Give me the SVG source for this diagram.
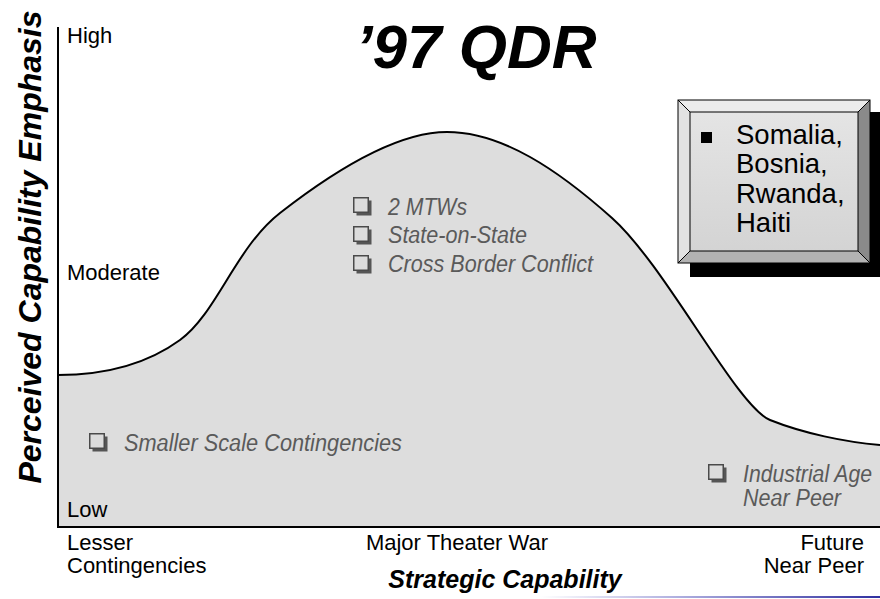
<svg xmlns="http://www.w3.org/2000/svg" xmlns:xlink="http://www.w3.org/1999/xlink" width="880" height="599" viewBox="0 0 880 599">
<style>
.lbl{font-family:"Liberation Sans",Arial,sans-serif;font-size:22px;fill:#000}
.ttl{font-family:"Liberation Sans",Arial,sans-serif;font-weight:bold;font-style:italic;fill:#000}
.it{font-family:"Liberation Sans",Arial,sans-serif;font-style:italic;font-size:23px;fill:#5a5a5a}
.box{font-family:"Liberation Sans",Arial,sans-serif;font-size:27.5px;fill:#000}
.crv{fill:none;stroke:#000;stroke-width:2}
</style>
<defs>
<g id="cb">
<rect x="3.5" y="3.5" width="15" height="15" fill="#555"/>
<rect x="0.75" y="0.75" width="14.5" height="14.5" fill="#dcdcdc" stroke="#4a4a4a" stroke-width="1.5"/>
</g>
<linearGradient id="bl" x1="0" y1="0" x2="1" y2="0">
<stop offset="0" stop-color="#ffffff"/>
<stop offset="0.4" stop-color="#b0b0e0"/>
<stop offset="1" stop-color="#3030a0"/>
</linearGradient>
<linearGradient id="face" x1="0" y1="0" x2="0" y2="1">
<stop offset="0" stop-color="#e6e6e6"/>
<stop offset="1" stop-color="#d2d2d2"/>
</linearGradient>
</defs>

<g id="chart">
<path d="M58,375 C98,375 143,367 180,340 C217,313 235.5,247.7 280,213 C324.5,178.3 391.7,132 447,132 C502.3,132 558.2,170 612,218 C665.8,266 736.7,406.7 770,420 C803.3,433.3 845,442 880,445 L880,527 L58,527 Z" fill="#dddddd"/>
<path class="crv" d="M58,375 C98,375 143,367 180,340 C217,313 235.5,247.7 280,213 C324.5,178.3 391.7,132 447,132 C502.3,132 558.2,170 612,218 C665.8,266 736.7,406.7 770,420 C803.3,433.3 845,442 880,445"/>
</g>

<g id="axes">
<line x1="58" y1="27" x2="58" y2="528" stroke="#000" stroke-width="2"/>
<line x1="57" y1="527" x2="880" y2="527" stroke="#000" stroke-width="2"/>
</g>

<g id="title"><text class="ttl" x="476" y="68" font-size="62" text-anchor="middle">’97 QDR</text></g>
<g id="yaxis-label"><text class="ttl" font-size="32" text-anchor="middle" transform="translate(41,247) rotate(-90)">Perceived Capability Emphasis</text></g>
<g id="xaxis-label"><text class="ttl" x="505" y="588" font-size="25" text-anchor="middle">Strategic Capability</text></g>

<g id="y-ticks">
<text class="lbl" x="67" y="43">High</text>
<text class="lbl" x="67" y="280">Moderate</text>
<text class="lbl" x="67" y="517">Low</text>
</g>
<g id="x-ticks">
<text class="lbl" x="67" y="550">Lesser</text>
<text class="lbl" x="67" y="573">Contingencies</text>
<text class="lbl" x="457" y="550" text-anchor="middle">Major Theater War</text>
<text class="lbl" x="864" y="550" text-anchor="end">Future</text>
<text class="lbl" x="864" y="573" text-anchor="end">Near Peer</text>
</g>

<g id="mtw-list">
<use xlink:href="#cb" x="353" y="197"/>
<text class="it" x="388" y="215" textLength="79" lengthAdjust="spacingAndGlyphs">2 MTWs</text>
<use xlink:href="#cb" x="353" y="226"/>
<text class="it" x="388" y="243" textLength="139" lengthAdjust="spacingAndGlyphs">State-on-State</text>
<use xlink:href="#cb" x="353" y="255"/>
<text class="it" x="388" y="272" textLength="205" lengthAdjust="spacingAndGlyphs">Cross Border Conflict</text>
</g>
<g id="ssc">
<use xlink:href="#cb" x="89" y="433"/>
<text class="it" x="124" y="451" textLength="278" lengthAdjust="spacingAndGlyphs">Smaller Scale Contingencies</text>
</g>
<g id="industrial">
<use xlink:href="#cb" x="708" y="464"/>
<text class="it" x="743" y="482" textLength="129" lengthAdjust="spacingAndGlyphs">Industrial Age</text>
<text class="it" x="743" y="506" textLength="98" lengthAdjust="spacingAndGlyphs">Near Peer</text>
</g>

<g id="callout">
<rect x="690" y="112" width="192" height="165" fill="#000"/>
<rect x="678" y="100" width="192" height="163" fill="url(#face)"/>
<polygon points="678,100 870,100 858,112 690,112" fill="#ececec"/>
<polygon points="678,100 690,112 690,251 678,263" fill="#e2e2e2"/>
<polygon points="870,100 870,263 858,251 858,112" fill="#8a8a8a"/>
<polygon points="678,263 870,263 858,251 690,251" fill="#b2b2b2"/>
<rect x="678" y="100" width="192" height="163" fill="none" stroke="#000" stroke-width="1"/>
<rect x="690" y="112" width="168" height="139" fill="none" stroke="#000" stroke-width="1"/>
<path d="M678,100 L690,112 M870,100 L858,112 M678,263 L690,251 M870,263 L858,251" stroke="#000" stroke-width="1"/>
<rect x="701" y="132" width="11" height="11" fill="#000"/>
<text class="box" x="736" y="144">Somalia,</text>
<text class="box" x="736" y="173">Bosnia,</text>
<text class="box" x="736" y="203">Rwanda,</text>
<text class="box" x="736" y="232">Haiti</text>
</g>

<rect x="540" y="596" width="340" height="2" fill="url(#bl)"/>
</svg>
